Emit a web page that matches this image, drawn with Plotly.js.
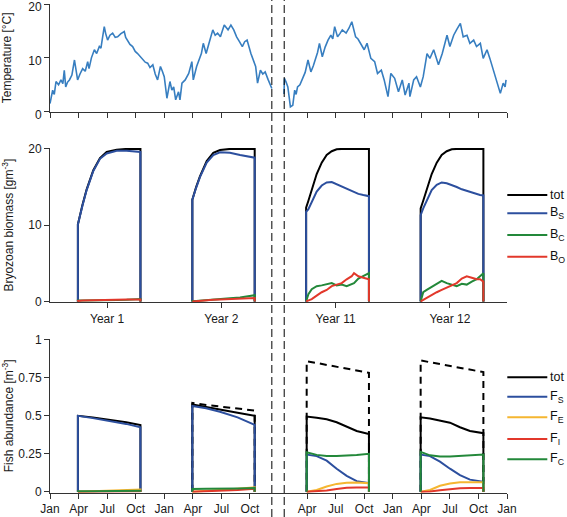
<!DOCTYPE html>
<html>
<head>
<meta charset="utf-8">
<script src="https://cdn.plot.ly/plotly-3.0.1.min.js"></script>
<style>html,body{margin:0;padding:0;background:#fff;}#chart{width:567px;height:517px;}</style>
</head>
<body>
<div id="chart"></div>
<script>
// ---------- DATA ----------
// Temperature (months since Jan of Year 1; the second part is Years 11-12 placed after the axis break)
const tempMonths = [0.0,0.28,0.45,0.63,0.9,1.15,1.35,1.5,1.65,1.85,2.04,2.3,2.57,2.75,2.9,3.15,3.43,3.7,3.96,4.1,4.35,4.66,4.9,5.18,5.35,5.53,5.7,5.85,6.05,6.3,6.58,6.85,7.1,7.45,7.8,7.95,8.16,8.4,8.68,8.95,9.2,9.45,9.73,10.0,10.26,10.5,10.8,11.05,11.3,11.6,11.8,12.0,12.28,12.45,12.6,12.8,12.99,13.2,13.5,13.65,13.86,14.2,14.57,14.9,15.05,15.4,15.65,15.9,16.1,16.4,16.7,17.1,17.35,17.6,17.9,18.1,18.3,18.7,19.0,19.3,19.6,19.9,20.2,20.45,20.7,21.1,21.4,21.6,21.8,22.1,22.35,22.6,22.9,23.1,23.3,
  null,
  24.58,24.62,24.8,24.98,25.1,25.25,25.5,25.7,25.85,26.0,26.25,26.5,26.8,27.1,27.4,27.65,27.9,28.1,28.3,28.6,28.9,29.2,29.5,29.7,29.9,30.2,30.45,30.7,31.1,31.4,31.7,31.9,32.1,32.35,32.6,33.0,33.3,33.7,34.1,34.4,34.8,35.1,35.5,35.8,36.2,36.6,37.0,37.3,37.7,37.8,38.2,38.5,38.9,39.2,39.6,39.9,40.3,40.8,41.2,41.7,42.0,42.4,42.7,43.1,43.4,43.8,44.1,44.5,44.8,45.2,45.5,45.9,46.2,46.6,46.9,47.3,47.6,47.8,47.9];
const tempValues = [1.5,4.0,3.2,5.6,5.0,5.9,5.2,7.7,4.6,5.5,5.9,6.8,9.6,7.2,5.9,7.0,8.0,7.5,9.3,8.0,10.0,11.5,10.8,12.1,11.8,13.9,15.8,14.5,13.3,14.2,14.6,13.8,13.9,14.5,14.9,13.8,13.3,12.5,12.1,11.2,10.8,10.3,9.9,9.2,9.0,8.2,8.7,7.0,5.9,8.4,7.5,6.5,2.5,4.5,5.6,4.0,4.6,2.2,3.7,2.2,5.3,5.9,7.1,9.3,5.9,8.4,9.5,10.8,12.7,10.8,12.7,15.2,14.2,14.6,13.9,15.2,16.1,15.2,16.1,15.2,13.9,13.0,12.1,13.0,13.3,10.8,9.3,8.4,5.3,7.7,7.0,7.4,6.0,5.0,4.3,
  null,
  3.3,6.2,5.5,4.6,3.0,0.9,1.2,4.0,3.2,4.6,5.0,6.2,7.3,9.6,7.4,8.5,9.9,11.0,12.7,10.2,12.0,13.3,14.2,13.5,15.8,13.9,14.5,15.2,14.6,15.5,16.7,15.0,13.9,13.5,12.7,11.5,12.7,9.9,9.3,7.1,7.7,5.9,2.8,7.1,6.2,3.7,5.9,3.1,5.3,2.8,5.9,6.5,4.6,6.5,10.8,9.9,11.5,8.7,10.8,14.2,12.1,14.2,15.2,16.4,13.9,14.2,12.7,13.3,12.1,12.7,9.9,11.5,9.9,7.4,5.6,3.4,5.3,4.6,5.9];

// Bryozoan biomass per simulated year
const bryoMonthsY1 = [2.93,2.93,3.4,3.85,4.55,5.25,5.95,7.0,8.05,9.5,9.5];
const bryoTotY1 = [0,10.1,12.6,14.7,17.2,18.8,19.6,19.9,20,20,0];
const bryoSY1   = [0,10.1,12.5,14.6,17.1,18.7,19.4,19.75,19.75,19.6,0];
const bryoCY1   = [0,0.1,0.1,0.12,0.12,0.12,0.15,0.18,0.2,0.3,0];
const bryoOY1   = [0,0.05,0.1,0.12,0.15,0.17,0.2,0.22,0.25,0.25,0];

const bryoMonthsY2 = [14.95,14.95,15.35,15.75,16.46,17.15,17.86,18.9,19.96,21.5,21.5];
const bryoTotY2 = [0,13.35,15.0,16.4,18.4,19.5,19.85,20,20,20,0];
const bryoSY2   = [0,13.35,14.9,16.3,18.2,19.2,19.55,19.5,19.2,18.85,0];
const bryoCY2   = [0,0.05,0.05,0.1,0.15,0.2,0.3,0.4,0.5,0.8,0];
const bryoOY2   = [0,0,0.05,0.1,0.15,0.2,0.25,0.3,0.4,0.45,0];

const bryoMonthsY11 = [26.9,26.9,27.14,27.49,28.01,28.54,29.06,29.59,30.11,30.64,31.16,31.69,31.93,32.39,32.91,33.5,33.5];
const bryoTotY11 = [0,12.3,13.2,14.6,16.7,18.2,19.2,19.7,19.95,20,20,20,20,20,20,20,0];
const bryoSY11   = [0,11.75,12.1,13.0,14.4,15.2,15.6,15.65,15.35,15.0,14.7,14.4,14.3,14.1,13.95,13.8,0];
const bryoCY11   = [0,0,0.95,1.6,2.0,2.1,2.2,2.4,2.1,2.2,2.0,2.3,2.4,3.0,3.3,3.7,0];
const bryoOY11   = [0,0,0.15,0.3,0.75,1.2,1.5,2.0,2.2,2.4,2.9,3.3,3.7,3.3,3.1,2.9,0];

const bryoMonthsY12 = [38.93,38.93,39.2,39.57,40.09,40.62,41.14,41.67,42.2,42.72,43.25,43.77,44.3,44.82,45.17,45.52,45.52];
const bryoTotY12 = [0,12.2,13.2,14.8,16.7,18.2,19.2,19.7,19.95,20,20,20,20,20,20,20,0];
const bryoSY12   = [0,11.3,12.2,13.3,14.6,15.3,15.6,15.5,15.3,15.0,14.7,14.5,14.25,14.05,13.95,13.9,0];
const bryoCY12   = [0,0,1.2,1.5,1.9,2.3,2.7,2.4,2.2,2.0,2.3,2.2,2.6,2.9,3.3,3.7,0];
const bryoOY12   = [0,0,0.2,0.5,0.8,1.2,1.5,1.8,2.2,2.4,3.0,3.3,3.1,2.9,2.9,2.6,0];

// Fish abundance per simulated year
const fishMonthsY1 = [2.93,2.93,4.5,6.3,8.0,9.5,9.5];
const fishTotY1 = [0,0.5,0.49,0.475,0.458,0.44,0];
const fishSY1   = [0,0.5,0.485,0.468,0.447,0.425,0];
const fishEY1   = [0,0,0.003,0.007,0.011,0.015,0];
const fishIY1   = [0,0,0.001,0.002,0.003,0.004,0];
const fishCY1   = [0,0.003,0.004,0.005,0.006,0.007,0];

const fishMonthsY2 = [14.95,14.95,16.4,17.85,19.7,21.5,21.5];
const fishRefY2 = [0,0.585,0.572,0.56,0.548,0.535,0];
const fishTotY2 = [0,0.575,0.558,0.54,0.52,0.5,0];
const fishSY2   = [0,0.565,0.55,0.527,0.49,0.44,0];
const fishEY2   = [0,0,0.005,0.012,0.02,0.03,0];
const fishIY2   = [0,0,0.003,0.007,0.012,0.02,0];
const fishCY2   = [0,0.018,0.02,0.02,0.022,0.025,0];

const fishMonthsY11 = [26.96,26.96,28.01,29.06,30.11,31.16,32.21,33.5,33.5];
const fishRefY11 = [0,0.86,0.848,0.836,0.823,0.811,0.799,0.783,0];
const fishTotY11 = [0,0.495,0.488,0.478,0.458,0.43,0.4,0.38,0];
const fishSY11   = [0,0.245,0.235,0.205,0.152,0.105,0.07,0.057,0];
const fishEY11   = [0,0,0.012,0.035,0.052,0.06,0.061,0.057,0];
const fishIY11   = [0,0,0.002,0.008,0.018,0.026,0.028,0.028,0];
const fishCY11   = [0,0.26,0.243,0.235,0.235,0.237,0.242,0.25,0];

const fishMonthsY12 = [38.93,38.93,39.91,40.96,42.01,43.06,44.11,45.52,45.52];
const fishRefY12 = [0,0.865,0.853,0.841,0.828,0.814,0.802,0.788,0];
const fishTotY12 = [0,0.49,0.482,0.47,0.455,0.425,0.4,0.386,0];
const fishSY12   = [0,0.245,0.235,0.198,0.152,0.11,0.08,0.066,0];
const fishEY12   = [0,0,0.012,0.04,0.055,0.062,0.062,0.062,0];
const fishIY12   = [0,0,0.002,0.01,0.018,0.024,0.025,0.025,0];
const fishCY12   = [0,0.263,0.24,0.232,0.232,0.235,0.238,0.245,0];

// Axis ticks and labels
const monthTickVals = [0,3,6,9,12,15,18,21,27,30,33,36,39,42,45,48];
const monthTickText = ['Jan','Apr','Jul','Oct','Jan','Apr','Jul','Oct','Apr','Jul','Oct','Jan','Apr','Jul','Oct','Jan'];
const yearTickVals = [6,18,30,42];
const yearTickText = ['Year 1','Year 2','Year 11','Year 12'];
const breakMonths = [23.3,24.6];
const bryoLegend = ['tot','B<sub>S</sub>','B<sub>C</sub>','B<sub>O</sub>'];
const fishLegend = ['tot','F<sub>S</sub>','F<sub>E</sub>','F<sub>I</sub>','F<sub>C</sub>'];

// ---------- STYLE ----------
const C = {tot:'#000000', S:'#2c4f9e', C:'#23883a', O:'#e2382b', E:'#f5b631', I:'#e2382b', temp:'#377ec0'};
const FONT = 'Liberation Sans, Arial, Helvetica, sans-serif';
const LW = 2;

const traces = [];
traces.push({x:tempMonths, y:tempValues, xaxis:'x', yaxis:'y', type:'scatter', mode:'lines',
  line:{color:C.temp, width:1.6}, connectgaps:false, hoverinfo:'skip'});

function addLine(xs, ys, color, ax, ay, dash, width) {
  traces.push({x:xs, y:ys, xaxis:ax, yaxis:ay, type:'scatter', mode:'lines',
    line:{color:color, width:width||LW, dash:dash||'solid'}, hoverinfo:'skip'});
}
// Bryozoans
[[bryoMonthsY1,bryoTotY1,bryoSY1,bryoCY1,bryoOY1],
 [bryoMonthsY2,bryoTotY2,bryoSY2,bryoCY2,bryoOY2],
 [bryoMonthsY11,bryoTotY11,bryoSY11,bryoCY11,bryoOY11],
 [bryoMonthsY12,bryoTotY12,bryoSY12,bryoCY12,bryoOY12]].forEach(function(s){
  addLine(s[0], s[1], C.tot, 'x2', 'y2');
  addLine(s[0], s[2], C.S, 'x2', 'y2');
  addLine(s[0], s[3], C.C, 'x2', 'y2');
  addLine(s[0], s[4], C.O, 'x2', 'y2');
});
// Fish reference (dashed)
[[fishMonthsY2,fishRefY2],[fishMonthsY11,fishRefY11],[fishMonthsY12,fishRefY12]].forEach(function(s){
  addLine(s[0], s[1], C.tot, 'x3', 'y3', '7px,5px', 2);
});
[[fishMonthsY1,fishTotY1,fishSY1,fishEY1,fishIY1,fishCY1],
 [fishMonthsY2,fishTotY2,fishSY2,fishEY2,fishIY2,fishCY2],
 [fishMonthsY11,fishTotY11,fishSY11,fishEY11,fishIY11,fishCY11],
 [fishMonthsY12,fishTotY12,fishSY12,fishEY12,fishIY12,fishCY12]].forEach(function(s){
  addLine(s[0], s[1], C.tot, 'x3', 'y3');
  addLine(s[0], s[2], C.S, 'x3', 'y3');
  addLine(s[0], s[3], C.E, 'x3', 'y3');
  addLine(s[0], s[4], C.I, 'x3', 'y3');
  addLine(s[0], s[5], C.C, 'x3', 'y3');
});

// ---------- LAYOUT ----------
const W = 567, H = 517, ML = 50, MR = 60;
const plotW = W - ML - MR;
function px2paperX(p){ return (p - ML) / plotW; }
function px2paperY(p){ return 1 - p / H; }

const axCommon = {showgrid:false, zeroline:false, showline:true, linecolor:'#333', linewidth:1,
  ticks:'outside', ticklen:5, tickwidth:1, tickcolor:'#333', automargin:false,
  ticklabeloverflow:'allow',
  tickfont:{family:FONT, size:12, color:'#1a1a1a'}};
function ax(extra){ return Object.assign({}, axCommon, extra); }

const shapes = [];
breakMonths.forEach(function(m){
  shapes.push({type:'line', xref:'x', yref:'paper', x0:m, x1:m, y0:0, y1:1,
    line:{color:'#000', width:1, dash:'8px,4px'}});
});
const annotations = [];
const legColors1 = [C.tot, C.S, C.C, C.O];
const legY1 = [195, 213.3, 235, 256.7];
const legColors2 = [C.tot, C.S, C.E, C.I, C.C];
const legY2 = [377.3, 396.7, 417.3, 439, 459.3];
function addLegend(labels, colors, ys){
  labels.forEach(function(t, i){
    shapes.push({type:'line', xref:'paper', yref:'paper', x0:px2paperX(507.3), x1:px2paperX(547.3),
      y0:px2paperY(ys[i]), y1:px2paperY(ys[i]), line:{color:colors[i], width:2}});
    annotations.push({xref:'paper', yref:'paper', x:px2paperX(548), y:px2paperY(ys[i]),
      xanchor:'left', yanchor:'middle', text:t, showarrow:false,
      font:{family:FONT, size:12.5, color:'#111'}});
  });
}
addLegend(bryoLegend, legColors1, legY1);
addLegend(fishLegend, legColors2, legY2);

const titleFont = {family:FONT, size:12, color:'#1a1a1a'};
const layout = {
  width:W, height:H, margin:{l:ML, r:MR, t:0, b:0, pad:0},
  paper_bgcolor:'#fff', plot_bgcolor:'#fff', showlegend:false,
  font:{family:FONT, size:12, color:'#1a1a1a'},
  xaxis: ax({anchor:'y', domain:[0,1], range:[0,48], tickvals:monthTickVals, showticklabels:false}),
  yaxis: ax({anchor:'x', domain:[px2paperY(111.7), px2paperY(4)], range:[0,20], tickvals:[0,10,20],
    ticklabelshift:3,
    title:{text:'Temperature [°C]', font:titleFont, standoff:14}}),
  xaxis2: ax({anchor:'y2', domain:[0,1], range:[0,48], tickvals:yearTickVals, ticktext:yearTickText}),
  yaxis2: ax({anchor:'x2', domain:[px2paperY(302.3), px2paperY(148)], range:[-0.12,20.12], tickvals:[0,10,20],
    title:{text:'Bryozoan biomass [gm<sup>-3</sup>]', font:titleFont, standoff:14}}),
  xaxis3: ax({anchor:'y3', domain:[0,1], range:[0,48], tickvals:monthTickVals, ticktext:monthTickText}),
  yaxis3: ax({anchor:'x3', domain:[px2paperY(492.7), px2paperY(339)], range:[-0.006,1.006],
    tickvals:[0,0.25,0.5,0.75,1], ticktext:['0','0.25','0.5','0.75','1'],
    title:{text:'Fish abundance [m<sup>-3</sup>]', font:titleFont, standoff:5}}),
  shapes:shapes, annotations:annotations
};

Plotly.newPlot('chart', traces, layout, {displayModeBar:false, staticPlot:true});
</script>
</body>
</html>
